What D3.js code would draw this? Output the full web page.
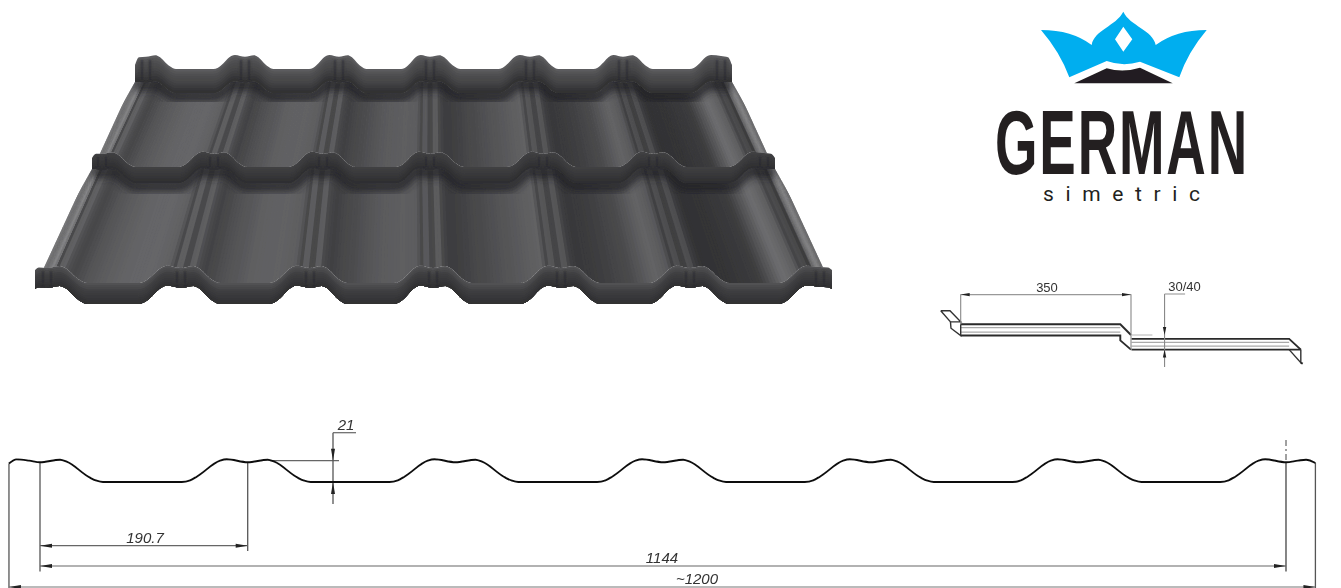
<!DOCTYPE html>
<html>
<head>
<title>German Simetric profile</title>
<meta charset="utf-8">
<script src="https://d3js.org/d3.v7.min.js"></script>
<style>
	html, body { margin: 0; padding: 0; background: #fff; overflow: hidden; }
	svg { display: block; }
</style>
</head>
<body>
<script>
var width = 1341
var height = 588

// profile of one rib pitch (mm along the sheet, mm above the trough)
var pitchOffsets = [0, 18.4, 24.5, 45.9, 52, 57.8, 130.1, 137.8, 143.9, 165.3, 171.4, 190.7]
var pitchHeights = [19.7, 22.3, 20.3, 4.3, 1.3, 0, 0, 1.7, 5.3, 21.3, 22.7, 19.7]
var ribPositions = [0, 190.7, 381.4, 572.1, 762.8, 953.5, 1144]
var leftEndOffsets = [-28.5, -21.5, -10]
var leftEndHeights = [18.5, 22.6, 21.4]
var rightEndOffsets = [1155, 1162.4, 1171]
var rightEndHeights = [21.4, 22.3, 19]

// dimensions on the long section
var pitchLabel = "190.7"
var coverLabel = "1144"
var totalLabel = "~1200"
var depthLabel = "21"

// step section, in mm along the slope
var stepLabel = "350"
var dropLabel = "30/40"
var stepTop = [[0, 0], [328, 0], [350, 22]]
var stepUnder = [[0, 23], [328, 23], [328, 33], [350, 52]]
var stepInner = [[0, 7], [328, 7]]
var stepInner2 = [[0, 16], [328, 16]]
var lowerTop = [[351, 30], [675, 30], [699, 52]]
var lowerUnder = [[351, 52], [699, 52]]
var lowerInner = [[351, 37], [675, 37]]
var lowerInner2 = [[351, 45], [675, 45]]
var hookLeft = [[-41, -28], [-22, -28], [0, -5], [-21, -5], [-41, -28]]
var hookLeft2 = [[-21, -5], [-20, 8], [0, 23], [0, 0]]
var hookRight = [[675, 52], [699, 79], [699, 52]]
var hookRight2 = [[699, 79], [703, 81]]

// roof sheet: rib centres on the top edge, the middle step and the eaves
var ribTop = [146, 245, 339, 430, 530, 623, 721]
var ribMid = [102, 214, 323, 430, 543, 653, 764]
var ribBot = [47, 181, 310, 433, 561, 690, 820]
var sideTop = [135, 732]
var sideMid = [92, 775]
var sideBot = [35, 832]

// logo
var brandName = "GERMAN"
var brandSub = "simetric"

var svg = d3.select("body").append("svg")
	.attr("width", width)
	.attr("height", height)
var defs = svg.append("defs")

defs.append("filter").attr("id", "soft").append("feGaussianBlur").attr("stdDeviation", 0.6)
defs.append("filter").attr("id", "softer").append("feGaussianBlur").attr("stdDeviation", 0.35)
defs.append("filter").attr("id", "groove").append("feGaussianBlur").attr("stdDeviation", 1)
defs.append("filter").attr("id", "shade")
	.attr("x", "-10%").attr("y", "-50%").attr("width", "120%").attr("height", "200%")
	.append("feGaussianBlur").attr("stdDeviation", 3.5)

var smooth = d3.line().curve(d3.curveMonotoneX)
var straight = d3.line()

/* ---------- roof ---------- */
var roof = svg.append("g").attr("filter", "url(#soft)")

var shadeStops = [0, .05, .09, .15, .3, .55, .75, .87, .91, .95, 1]
var shades = [
	[62, 104, 82, 70, 86, 100, 102, 96, 72, 104, 64],
	[64, 102, 78, 66, 80, 96, 98, 92, 70, 102, 62],
	[62, 102, 72, 64, 74, 90, 94, 92, 70, 98, 62],
	[62, 100, 70, 60, 68, 82, 92, 98, 70, 94, 60],
	[60, 94, 66, 56, 60, 74, 100, 88, 64, 86, 56],
	[56, 86, 60, 50, 52, 60, 110, 94, 68, 78, 54]
]
var sideShades = [74, 78, 84, 78, 72, 82, 102, 88, 72, 88, 64]
var sideShadesR = [62, 90, 74, 60, 80, 98, 84, 68, 76, 68, 62]

function grey(v) { return d3.rgb(v, v, v + 2) }

// one wavy edge across the sheet, uses the same rib pitch as the section below
function waveEdge(ribs, side, yRib, yValley, round) {
	var pts = [[side[0], yRib + round], [side[0] + 4, yRib + round / 8]]
	d3.range(ribs.length - 1).forEach(function(i) {
		var x = d3.scaleLinear().domain([0, 190.7]).range([ribs[i], ribs[i + 1]])
		var y = d3.scaleLinear().domain([0, 21]).range([yValley, yRib])
		pitchOffsets.forEach(function(o, k) {
			if (k < pitchOffsets.length - 1) pts.push([x(o), y(pitchHeights[k])])
		})
	})
	pts.push([ribs[ribs.length - 1], yRib])
	pts.push([side[1] - 4, yRib + round / 8])
	pts.push([side[1], yRib + round])
	return pts
}

function band(upper, lower) {
	return smooth(upper) + smooth(lower.slice().reverse()).replace(/^M/, "L") + "Z"
}

function drawTier(id, ribsA, sideA, ribsB, sideB, faceTop, faceBottom) {
	defs.append("clipPath").attr("id", id).append("path").attr("d", band(faceTop, faceBottom))
	var g = roof.append("g").attr("clip-path", "url(#" + id + ")")

	var columns = [{a: [sideA[0], ribsA[0]], b: [sideB[0], ribsB[0]], tone: sideShades}]
	d3.range(ribsA.length - 1).forEach(function(i) {
		columns.push({a: [ribsA[i], ribsA[i + 1]], b: [ribsB[i], ribsB[i + 1]], tone: shades[i]})
	})
	columns.push({a: [ribsA[6], sideA[1]], b: [ribsB[6], sideB[1]], tone: sideShadesR})

	var yA = d3.min(faceTop, d => d[1]) - 4
	var yB = d3.max(faceBottom, d => d[1]) + 4

	columns.forEach(function(c) {
		var tone = d3.scaleLinear().domain(shadeStops).range(c.tone)
		var n = 40
		var xa = d3.scaleLinear().range(c.a)
		var xb = d3.scaleLinear().range(c.b)
		d3.range(n).forEach(function(k) {
			var t0 = k / n
			var t1 = (k + 1.3) / n
			g.append("path")
				.attr("d", straight([[xa(t0), yA], [xa(t1), yA], [xb(t1), yB], [xb(t0), yB]]) + "Z")
				.attr("fill", grey(Math.round(tone((k + .5) / n))))
		})
	})

	// dark shadow thrown by the lip above
	g.append("path")
		.attr("d", smooth(faceTop.map(d => [d[0], d[1] + 3])))
		.attr("fill", "none")
		.attr("stroke", "#232325")
		.attr("stroke-width", 12)
		.attr("opacity", .75)
		.attr("filter", "url(#shade)")
}

// lip is painted top to bottom, each layer over the one before, so the shading follows the wave
function drawLip(ribs, top, low, tones) {
	var n = 10
	var tone = d3.scaleLinear().domain(d3.range(tones.length).map(d => d / (tones.length - 1))).range(tones)
	var mix = function(t) {
		return top.map(function(p, i) { return [p[0] + (low[i][0] - p[0]) * t, p[1] + (low[i][1] - p[1]) * t] })
	}
	d3.range(n).forEach(function(k) {
		roof.append("path")
			.attr("d", band(mix(k / n), low))
			.attr("fill", grey(Math.round(tone((k + .5) / n))))
	})
	// soft grooves beside the middle of every rib
	var hTop = d3.min(top, d => d[1])
	var hLow = d3.min(low, d => d[1])
	var grooves = roof.append("g").attr("filter", "url(#groove)")
	ribs.forEach(function(r) {
		;[-4, 4].forEach(function(off) {
			grooves.append("line")
				.attr("x1", r + off).attr("x2", r + off)
				.attr("y1", hTop + 5).attr("y2", hLow - 1)
				.attr("stroke", "#2b2b2d").attr("stroke-width", 3).attr("opacity", .6)
		})
	})
}

var topEdge = waveEdge(ribTop, sideTop, 56, 69, 9)
var topLow = waveEdge(ribTop, sideTop, 82, 93, 0)
var midEdge = waveEdge(ribMid, sideMid, 153, 167, 5)
var midLow = waveEdge(ribMid, sideMid, 169, 183, 0)
var botEdge = waveEdge(ribBot, sideBot, 267, 283, 3)
var botLow = waveEdge(ribBot, sideBot, 287, 304, 2)

drawTier("faceB", ribMid, sideMid, ribBot, sideBot, midLow, botEdge)
drawLip(ribBot, botEdge, botLow, [84, 72, 62, 58, 52, 46])
drawTier("faceA", ribTop, sideTop, ribMid, sideMid, topLow, midEdge)
drawLip(ribMid, midEdge, midLow, [66, 60, 58, 54, 50, 44])
drawLip(ribTop, topEdge, topLow, [96, 80, 74, 66, 56, 46])

/* ---------- logo ---------- */
var crown = svg.append("g").attr("filter", "url(#softer)")
crown.append("path")
	.attr("fill", "#00aeef")
	.attr("fill-rule", "evenodd")
	.attr("d", "M1041,30 Q1072,30 1091.7,45 C1094,30 1116,26 1123.3,11.7 C1130,26 1153,30 1155.7,45 "
		+ "Q1176,30 1206.7,30 Q1188,52 1179.3,77.3 L1140,61.7 Q1123,67 1106.7,61 L1069.3,77.3 Q1060,52 1041,30Z "
		+ "M1123.3,26.7 L1132.3,39.3 L1123.3,51.7 L1115,39.3Z")
crown.append("path")
	.attr("fill", "#231f20")
	.attr("d", "M1074.3,83.3 L1106.7,68.3 Q1123,73 1140,67.7 L1172.7,83.3Z")

// no narrow face installed, so the word is squeezed to the width of the logo
var brand = svg.append("text")
	.attr("font-family", "'Liberation Sans', sans-serif")
	.attr("font-weight", 700)
	.attr("font-size", 90)
	.attr("letter-spacing", 3)
	.attr("fill", "#231f20")
	.text(brandName)
brand.attr("transform", "translate(995,174) scale(" + (254 / brand.node().getComputedTextLength()) + ",1)")

var sub = svg.append("text")
	.attr("x", 1043).attr("y", 201)
	.attr("font-family", "Roboto, sans-serif")
	.attr("font-size", 21)
	.attr("fill", "#231f20")
	.text(brandSub)
sub.attr("letter-spacing", (157 - sub.node().getComputedTextLength()) / (brandSub.length - 1))

/* ---------- arrows and dimension helpers ---------- */
function arrow(g, x, y, dx, dy, len, w) {
	// tip at x,y, pointing along dx,dy
	var px = -dy, py = dx
	g.append("path")
		.attr("d", straight([[x, y], [x - dx * len + px * w, y - dy * len + py * w], [x - dx * len - px * w, y - dy * len - py * w]]) + "Z")
		.attr("fill", "#222")
}

function seg(g, x1, y1, x2, y2, col, sw) {
	g.append("line")
		.attr("x1", x1).attr("y1", y1).attr("x2", x2).attr("y2", y2)
		.attr("stroke", col || "#555").attr("stroke-width", sw || 1)
}

function label(g, x, y, t, size, italic) {
	g.append("text")
		.attr("x", x).attr("y", y)
		.attr("text-anchor", "middle")
		.attr("font-family", "'Liberation Sans', Arial, sans-serif")
		.attr("font-style", italic ? "italic" : "normal")
		.attr("font-size", size)
		.attr("fill", "#333")
		.text(t)
}

/* ---------- step section ---------- */
var sx = d3.scaleLinear().domain([0, 350]).range([960.7, 1131])
var sy = d3.scaleLinear().domain([0, 350]).range([324.3, 494.6])
var step = svg.append("g").attr("filter", "url(#softer)")

function stepLine(pts, col, sw) {
	step.append("path")
		.attr("d", straight(pts.map(d => [sx(d[0]), sy(d[1])])))
		.attr("fill", "none")
		.attr("stroke", col)
		.attr("stroke-width", sw)
}

;[stepInner, stepInner2, lowerInner, lowerInner2].forEach(d => stepLine(d, "#aaa", 1.2))
;[stepTop, stepUnder, lowerTop, lowerUnder].forEach(d => stepLine(d, "#2a2a2a", 1.9))
stepLine(hookLeft, "#333", 1.4)
stepLine(hookLeft2, "#333", 1.4)
stepLine(hookRight, "#333", 1.4)
stepLine(hookRight2, "#222", 1.9)

seg(step, sx(0), sy(-62), sx(0), sy(0), "#888", 1.1)
seg(step, sx(350), sy(-62), sx(350), sy(52), "#888", 1.1)
seg(step, sx(0), sy(-61), sx(350), sy(-61), "#999", 1.1)
arrow(step, sx(0), sy(-61), -1, 0, 9, 1.7)
arrow(step, sx(350), sy(-61), 1, 0, 9, 1.7)
seg(step, sx(351), sy(22), sx(394), sy(22), "#bbb", 1.1)

var dropX = sx(419)
seg(step, dropX, 294, dropX, 367, "#888", 1.1)
seg(step, dropX, 294, dropX + 20.5, 294, "#999", 1.1)
arrow(step, dropX, sy(22), 0, 1, 8, 1.7)
arrow(step, dropX, sy(52), 0, -1, 8, 1.7)
label(step, sx(350) - 84, 292, stepLabel, 13)
label(step, dropX + 20, 291, dropLabel, 13)

/* ---------- long section ---------- */
var xMm = d3.scaleLinear().domain([0, 1144]).range([40, 1286])
var yMm = d3.scaleLinear().domain([0, 21]).range([482, 461])
var sec = svg.append("g").attr("filter", "url(#softer)")

var profile = leftEndOffsets.map((o, i) => [o, leftEndHeights[i]])
d3.range(ribPositions.length - 1).forEach(function(i) {
	pitchOffsets.forEach(function(o, k) {
		if (k < pitchOffsets.length - 1) profile.push([ribPositions[i] + o, pitchHeights[k]])
	})
})
profile.push([1144, pitchHeights[0]])
rightEndOffsets.forEach((o, i) => profile.push([o, rightEndHeights[i]]))

var edgeL = xMm(leftEndOffsets[0])
var edgeR = xMm(rightEndOffsets[2])
var ribA = xMm(ribPositions[0])
var ribB = xMm(ribPositions[1])
var ribZ = xMm(ribPositions[6])
var dim1 = 545.7, dim2 = 566, dim3 = 587

seg(sec, edgeL, yMm(leftEndHeights[0]), edgeL, 588, "#555", 1.3)
seg(sec, edgeR, yMm(rightEndHeights[2]), edgeR, 588, "#555", 1.3)
seg(sec, ribA, yMm(pitchHeights[0]), ribA, 571.5, "#555", 1.3)
seg(sec, ribB, yMm(pitchHeights[0]), ribB, 551, "#555", 1.3)
seg(sec, ribZ, yMm(pitchHeights[0]), ribZ, 571.5, "#444", 1.3)
// centre line above the last rib
sec.append("line")
	.attr("x1", ribZ).attr("x2", ribZ).attr("y1", 440).attr("y2", 462)
	.attr("stroke", "#444").attr("stroke-width", 1).attr("stroke-dasharray", "6 3 2 3")

seg(sec, ribA, dim1, ribB, dim1, "#666", 1.2)
seg(sec, ribA, dim2, ribZ, dim2, "#666", 1.2)
seg(sec, edgeL, dim3, edgeR, dim3, "#777", 1.2)
arrow(sec, ribA, dim1, -1, 0, 12, 2)
arrow(sec, ribB, dim1, 1, 0, 12, 2)
arrow(sec, ribA, dim2, -1, 0, 12, 2)
arrow(sec, ribZ, dim2, 1, 0, 12, 2)
arrow(sec, edgeL, dim3, -1, 0, 12, 2)
arrow(sec, edgeR, dim3, 1, 0, 12, 2)

// depth dimension
var depthX = 333
seg(sec, xMm(211), yMm(21.3), 339, yMm(21.3), "#666", 1.2)
seg(sec, depthX, 432.7, depthX, 504, "#555", 1.3)
seg(sec, depthX, 432.7, 356, 432.7, "#666", 1.2)
arrow(sec, depthX, yMm(21.3), 0, 1, 12, 2)
arrow(sec, depthX, yMm(0), 0, -1, 12, 2)

sec.append("path")
	.attr("d", smooth(profile.map(d => [xMm(d[0]), yMm(d[1])])))
	.attr("fill", "none")
	.attr("stroke", "#111")
	.attr("stroke-width", 1.9)

label(sec, 145, 543, pitchLabel, 15, true)
label(sec, 662, 563, coverLabel, 15, true)
label(sec, 697, 584, totalLabel, 15, true)
label(sec, 346, 430, depthLabel, 15, true)
</script>
</body>
</html>
